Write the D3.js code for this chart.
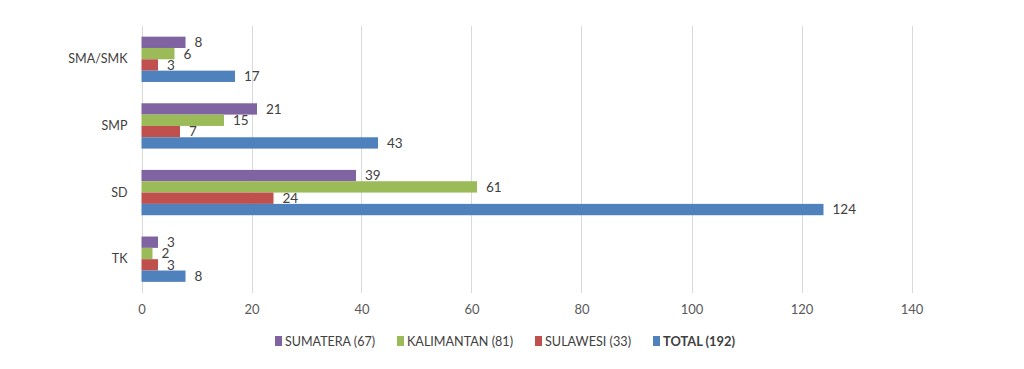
<!DOCTYPE html>
<html><head><meta charset="utf-8">
<script src="https://cdn.jsdelivr.net/npm/d3@7"></script>
<style>body{margin:0;background:#fff}svg{display:block}</style>
</head><body><svg id="c" width="1024" height="369"></svg>
<script>
const categories = ["SMA/SMK","SMP","SD","TK"];
const seriesNames = ["SUMATERA (67)","KALIMANTAN (81)","SULAWESI (33)","TOTAL (192)"];
const sumatera = [8,21,39,3];
const kalimantan = [6,15,61,2];
const sulawesi = [3,7,24,3];
const total = [17,43,124,8];
const xTicks = [0,20,40,60,80,100,120,140];
const colors = ["#8064A2","#9BBB59","#C0504D","#4F81BD"];

const series = [sumatera,kalimantan,sulawesi,total];
const svg = d3.select("#c");
const font = "Lato, 'Open Sans', sans-serif";
const x = d3.scaleLinear().domain([0,140]).range([141.5,911.5]);
const y = d3.scaleBand().domain(categories).range([26,292.5]).paddingInner(0.32).paddingOuter(0.16);
const y1 = d3.scaleBand().domain(d3.range(4)).range([0,y.bandwidth()]);

// gridlines
svg.append("g").selectAll("line").data(xTicks).join("line")
  .attr("x1",d=>Math.round(x(d))+0.5).attr("x2",d=>Math.round(x(d))+0.5)
  .attr("y1",26).attr("y2",293).attr("stroke","#d9d9d9").attr("stroke-width",1);

// x axis labels
const xAxis = d3.axisBottom(x).tickValues(xTicks).tickSize(0).tickPadding(0);
const gx = svg.append("g").attr("transform","translate(0,305)").call(xAxis);
gx.select(".domain").remove();
gx.selectAll("text").attr("font-family",font).attr("font-size",13).attr("fill","#595959");

// y axis labels
const yAxis = d3.axisLeft(y).tickSize(0).tickPadding(14);
const gy = svg.append("g").attr("transform","translate(141.5,0)").call(yAxis);
gy.select(".domain").remove();
gy.selectAll("text").attr("font-family",font).attr("font-size",12.5).attr("fill","#404040");

// bars
const groups = svg.append("g").selectAll("g").data(categories).join("g")
  .attr("transform",c=>`translate(0,${y(c)})`);
groups.each(function(c,ci){
  const g = d3.select(this);
  const vals = series.map((s,si)=>({si,v:s[ci]}));
  g.selectAll("rect").data(vals).join("rect")
    .attr("x",x(0)).attr("y",d=>y1(d.si)).attr("width",d=>x(d.v)-x(0))
    .attr("height",y1.bandwidth()).attr("fill",d=>colors[d.si]);
  g.selectAll("text").data(vals).join("text")
    .attr("x",d=>x(d.v)+9).attr("y",d=>y1(d.si)+y1.bandwidth()/2)
    .attr("dy","0.36em").attr("font-family",font).attr("font-size",13.5).attr("fill","#404040")
    .text(d=>d.v);
});

// legend
const legendTextWidths = [90,106,86,72];
const lg = svg.append("g").attr("transform","translate(275,341)");
let lx = 0;
seriesNames.forEach((n,i)=>{
  lg.append("rect").attr("x",lx).attr("y",-5).attr("width",7).attr("height",10).attr("fill",colors[i]);
  lg.append("text").attr("x",lx+10).attr("y",0).attr("dy","0.36em")
    .attr("font-family",font).attr("font-size",13).attr("fill","#404040")
    .attr("font-weight",i===3?"bold":"normal")
    .attr("textLength",legendTextWidths[i]).attr("lengthAdjust","spacingAndGlyphs").text(n);
  lx += 10 + legendTextWidths[i] + 22;
});
</script></body></html>
